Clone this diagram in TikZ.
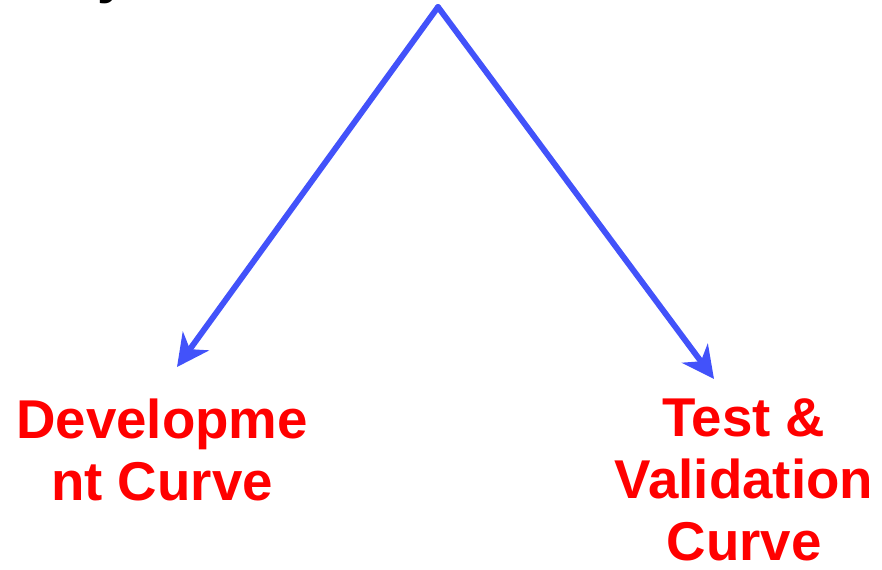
\documentclass[tikz,border=0pt]{standalone}
\usepackage{fontspec}
\setmainfont{Liberation Sans}
\usetikzlibrary{arrows.meta}
\definecolor{arrowblue}{RGB}{66,82,250}
\definecolor{labelred}{RGB}{255,0,0}
\begin{document}
\begin{tikzpicture}[x=0.75pt,y=-0.75pt,
  link/.style={draw=arrowblue,line width=4.4pt,-{Stealth[length=24pt,width=24pt,inset=7.5pt]}},
  lbl/.style={text=labelred,font=\fontsize{41}{46.5}\selectfont\bfseries,align=center,inner sep=0pt}]
\useasboundingbox (0,0) rectangle (882,569);
\clip (0,0) rectangle (882,569);
% tail of a heading running off the top edge
\node[anchor=base,font=\fontsize{41}{45}\selectfont\bfseries,inner sep=0pt] (head) at (113,-8) {y};
\coordinate (top) at (438,7);
\node[lbl,anchor=base] (dev) at (162,500) {Developme\\nt Curve};
\node[lbl,anchor=base] (test) at (744,560) {Test \&\\Validation\\Curve};
\coordinate (devtip) at (177,367);
\coordinate (testtip) at (714,379);
\draw[link,line cap=round] (top) -- (devtip);
\draw[link,line cap=round] (top) -- (testtip);
\end{tikzpicture}
\end{document}
